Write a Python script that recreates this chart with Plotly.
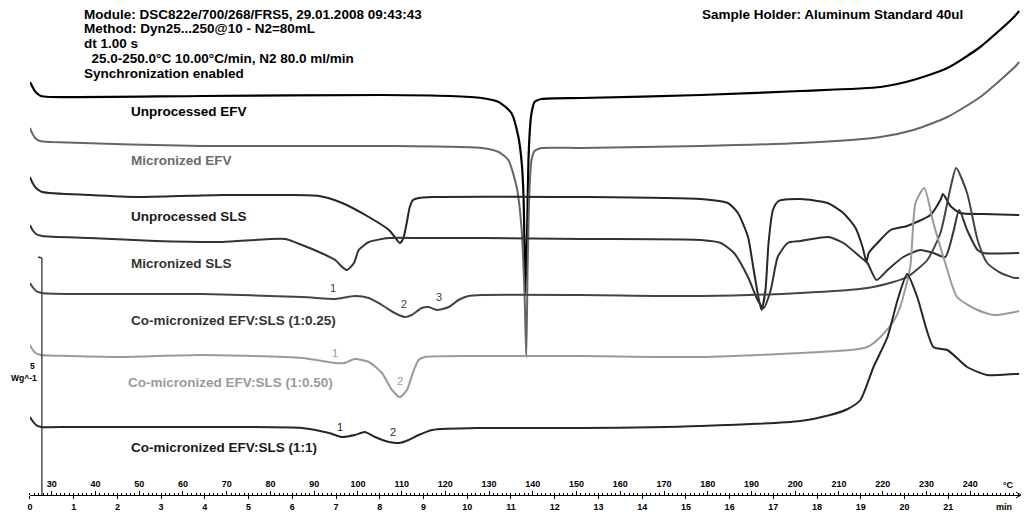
import plotly.graph_objects as go

# ---------------- data (temperature in °C, signal in plot units; endo down) ----------------
unproc_efv_T = [25.0, 25.6, 26.3, 27.5, 29.5, 64.4, 105.5, 121.0, 128.3, 132.2, 135.1, 136.7, 137.5, 137.9,
                138.3, 138.7, 139.0, 139.4, 139.7, 140.4, 142.0, 151.1, 178.4, 201.2, 219.5, 227.0, 234.8,
                242.3, 249.8, 251.2]
unproc_efv_y = [82, 87, 92, 96, 97, 96, 95, 96, 98, 102, 113, 137, 165, 200,
                293, 230, 160, 125, 113, 102, 99, 98, 95, 91, 87, 80, 68,
                47, 18, 11]

micro_efv_T = [25.0, 25.5, 26.2, 27.3, 30.0, 64.4, 105.5, 128.3, 132.2, 134.4, 136.3, 137.4, 138.1, 138.5,
               138.8, 139.2, 139.7, 140.4, 142.0, 151.1, 178.4, 201.2, 219.5, 227.0, 234.8, 242.3, 250.2, 251.2]
micro_efv_y = [128, 133, 138, 141, 142, 146, 146, 148, 152, 160, 187, 227, 293, 357,
               270, 193, 160, 151, 148, 148, 146, 143, 137, 130, 117, 97, 67, 62]

unproc_sls_T = [25.0, 25.6, 26.4, 27.8, 38.7, 50.1, 69.0, 83.4, 91.1, 96.4, 102.5, 107.1, 108.6, 109.6,
                110.4, 111.2, 111.8, 112.6, 113.9, 117.0, 151.1, 178.4, 184.6, 186.9, 189.2, 190.5, 191.7,
                192.3, 193.2, 193.9, 194.9, 196.2, 201.2, 207.4, 211.0, 213.8, 215.4, 216.3, 216.8, 218.8,
                221.8, 225.6, 230.9, 233.2, 233.8, 235.5, 237.7, 243.0, 251.2]
unproc_sls_y = [177, 183, 188, 192, 195, 197, 195, 195, 196, 203, 217, 230, 238, 243,
                238, 222, 208, 200, 198, 197, 197, 199, 203, 213, 237, 270, 300,
                310, 290, 243, 210, 201, 199, 203, 213, 228, 247, 262, 253, 243,
                230, 226, 215, 200, 194, 206, 213, 214, 215]

micro_sls_T = [25.0, 25.6, 26.4, 27.8, 38.7, 53.7, 69.0, 83.4, 87.2, 91.1, 94.8, 96.4, 97.5, 99.1, 100.2,
               102.5, 107.1, 114.6, 128.3, 151.1, 178.4, 183.0, 186.0, 189.2, 191.4, 192.8, 194.4, 196.0,
               198.3, 201.2, 207.6, 211.0, 214.9, 216.5, 218.6, 221.1, 224.7, 228.6, 231.6, 234.3, 236.1,
               237.5, 239.3, 241.7, 243.0, 251.2]
micro_sls_y = [225, 230, 234, 236, 238, 241, 242, 239, 245, 252, 260, 267, 270, 263, 250,
               242, 238, 238, 238, 239, 240, 243, 253, 277, 300, 308, 290, 257,
               243, 241, 237, 243, 257, 263, 280, 270, 257, 250, 253, 257, 233,
               210, 230, 250, 253, 253]

comic_025_T = [25.0, 25.6, 26.4, 27.7, 34.1, 46.2, 64.4, 87.2, 94.8, 96.4, 99.3, 102.5, 105.5, 108.4, 110.7,
               112.3, 114.6, 116.2, 118.0, 120.8, 123.0, 125.3, 128.3, 151.1, 178.4, 201.2, 216.5, 222.4,
               225.6, 230.2, 233.2, 235.4, 236.8, 239.3, 241.7, 243.9, 247.0, 250.2, 251.2]
comic_025_y = [283, 287, 291, 293, 294, 294, 294, 297, 299, 298, 296, 298, 305, 313, 317,
               315, 308, 307, 310, 307, 300, 296, 295, 295, 296, 293, 288, 282,
               277, 260, 233, 190, 168, 193, 240, 263, 273, 278, 278]

comic_050_T = [25.0, 25.5, 26.3, 27.5, 34.1, 46.2, 64.4, 87.2, 94.8, 97.0, 99.3, 102.5, 105.5, 107.8, 109.6,
               111.2, 112.8, 113.9, 115.3, 128.3, 151.1, 178.4, 201.2, 212.6, 216.5, 219.5, 222.4, 224.0,
               226.3, 227.5, 229.5, 231.6, 234.3, 237.0, 241.7, 245.4, 250.2, 251.2]
comic_050_y = [345, 349, 353, 355, 356, 357, 355, 358, 363, 363, 359, 362, 373, 390, 397,
               390, 370, 360, 357, 356, 356, 357, 353, 350, 347, 337, 322, 307,
               267, 203, 188, 223, 263, 297, 310, 315, 312, 311]

comic_1_T = [25.0, 25.6, 26.4, 27.5, 34.1, 46.2, 64.4, 87.2, 93.4, 96.4, 99.3, 101.6, 103.9, 107.1, 109.4,
             111.6, 113.9, 117.0, 128.3, 151.1, 178.4, 201.2, 208.0, 212.0, 214.9, 217.9, 221.1, 223.4,
             225.6, 227.9, 231.6, 234.8, 239.3, 243.9, 250.2, 251.2]
comic_1_y = [417, 421, 425, 427, 427, 427, 427, 428, 433, 437, 435, 432, 437, 442, 443,
             440, 435, 430, 428, 428, 426, 421, 415, 409, 400, 367, 337, 300,
             274, 297, 347, 350, 367, 375, 374, 374]

series_names = ["Unprocessed EFV", "Micronized EFV", "Unprocessed SLS", "Micronized SLS",
                "Co-micronized EFV:SLS (1:0.25)", "Co-micronized EFV:SLS (1:0.50)",
                "Co-micronized EFV:SLS (1:1)"]
series_T = [unproc_efv_T, micro_efv_T, unproc_sls_T, micro_sls_T, comic_025_T, comic_050_T, comic_1_T]
series_y = [unproc_efv_y, micro_efv_y, unproc_sls_y, micro_sls_y, comic_025_y, comic_050_y, comic_1_y]
series_colors = ["#000000", "#666666", "#262626", "#333333", "#444444", "#9a9a9a", "#262626"]
label_colors = ["#000000", "#6a6a6a", "#1a1a1a", "#333333", "#333333", "#9a9a9a", "#1a1a1a"]
label_y_px = [112, 161, 216, 263, 320, 382, 447]
label_x_px = [131, 131, 131, 131, 131, 128, 131]

# peak number labels: (text, T, y, colour)
peak_labels = [("1", 94.3, 288, "#404040"), ("2", 110.5, 304, "#404040"), ("3", 118.6, 297, "#404040"),
               ("1", 94.8, 353, "#9a9a9a"), ("2", 109.6, 381, "#9a9a9a"),
               ("1", 95.9, 427, "#262626"), ("2", 108.0, 432, "#262626")]

temp_ticks = list(range(30, 250, 10))
time_ticks = list(range(0, 22))

header_lines = ["Module: DSC822e/700/268/FRS5, 29.01.2008 09:43:43",
                "Method: Dyn25...250@10 - N2=80mL",
                "dt 1.00 s",
                "  25.0-250.0°C 10.00°C/min, N2 80.0 ml/min",
                "Synchronization enabled"]
header_y_px = [14, 28, 43, 59, 74]
holder_text = "Sample Holder: Aluminum Standard 40ul"

# ---------------- figure ----------------
W, H = 1024, 515
FONT = "Liberation Sans, Arial, sans-serif"
T0, T1 = 25.0, 25.0 + (1020 - 27) / 4.386
AX_Y = 1 - 495 / H
PAD = 5  # annotation inner padding compensation

def px(x):
    return x / W

def py(y):
    return 1 - y / H

fig = go.Figure()
for T, y, c, n in zip(series_T, series_y, series_colors, series_names):
    fig.add_trace(go.Scatter(x=T, y=y, mode="lines", name=n,
                             line=dict(color=c, width=2.2 if c == "#000000" else 2.0,
                                       shape="spline", smoothing=0.6),
                             hoverinfo="skip", showlegend=False))
# invisible trace to carry the time axis
fig.add_trace(go.Scatter(x=[0, 22.6], y=[1000, 1000], xaxis="x2", mode="markers",
                         marker=dict(opacity=0), hoverinfo="skip", showlegend=False))

ann = []
for t, yy in zip(header_lines, header_y_px):
    ann.append(dict(text=t.replace("  ", "&nbsp;&nbsp;"), x=px(84 - PAD), y=py(yy), xref="paper", yref="paper",
                    xanchor="left", yanchor="middle", showarrow=False,
                    font=dict(family=FONT, size=13.5, color="#000", weight="bold")))
ann.append(dict(text=holder_text, x=px(702 - 3), y=py(15), xref="paper", yref="paper",
                xanchor="left", yanchor="middle", showarrow=False,
                font=dict(family=FONT, size=13.5, color="#000", weight="bold")))
for n, c, lx, ly in zip(series_names, label_colors, label_x_px, label_y_px):
    ann.append(dict(text=n, x=px(lx - PAD), y=py(ly), xref="paper", yref="paper",
                    xanchor="left", yanchor="middle", showarrow=False,
                    font=dict(family=FONT, size=13.5, color=c, weight="bold")))
for t, T, yy, c in peak_labels:
    ann.append(dict(text=t, x=T, y=yy, xref="x", yref="y", showarrow=False,
                    xanchor="center", yanchor="middle",
                    font=dict(family=FONT, size=11, color=c)))
# scale bar text and axis units
ann.append(dict(text="5", x=px(30), y=py(366), xref="paper", yref="paper", showarrow=False,
                xanchor="center", yanchor="middle", font=dict(family=FONT, size=8.5, color="#000", weight="bold")))
ann.append(dict(text="Wg^-1", x=px(36), y=py(378), xref="paper", yref="paper", showarrow=False,
                xanchor="right", yanchor="middle", font=dict(family=FONT, size=8.5, color="#000", weight="bold")))
ann.append(dict(text="°C", x=px(1008), y=py(485), xref="paper", yref="paper", showarrow=False,
                xanchor="center", yanchor="middle", font=dict(family=FONT, size=9, color="#000", weight="bold")))
ann.append(dict(text="min", x=px(1004), y=py(507), xref="paper", yref="paper", showarrow=False,
                xanchor="center", yanchor="middle", font=dict(family=FONT, size=9, color="#000", weight="bold")))

shapes = [
    dict(type="line", xref="paper", yref="paper", x0=px(39), x1=px(39), y0=AX_Y, y1=py(258),
         line=dict(color="#333", width=1.3)),
    dict(type="line", xref="paper", yref="paper", x0=px(35), x1=px(39), y0=py(257), y1=py(258),
         line=dict(color="#333", width=1.3)),
    dict(type="path", xref="paper", yref="paper",
         path=f"M {px(1016)} {py(492)} L {px(1021)} {py(495)} L {px(1016)} {py(498)}",
         line=dict(color="#000", width=1)),
]

fig.update_layout(
    width=W, height=H, margin=dict(l=0, r=0, t=0, b=0),
    paper_bgcolor="white", plot_bgcolor="white",
    xaxis=dict(domain=[px(27), px(1020)], range=[T0, T1], anchor="free", position=AX_Y, side="top",
               showline=True, linecolor="#000", linewidth=1, showgrid=False, zeroline=False,
               ticks="outside", ticklen=4, tickcolor="#000", tickwidth=1,
               tickvals=temp_ticks, ticktext=[str(v) for v in temp_ticks],
               tickfont=dict(family=FONT, size=9, color="#000", weight="bold"),
               minor=dict(dtick=1, ticks="outside", ticklen=2, tickcolor="#000", showgrid=False)),
    xaxis2=dict(overlaying="x", range=[0, (1020 - 27) / 43.86], anchor="free", position=AX_Y, side="bottom",
                showline=False, showgrid=False, zeroline=False,
                ticks="outside", ticklen=3, tickcolor="#000", tickwidth=1,
                tickvals=time_ticks, ticktext=[str(v) for v in time_ticks],
                tickfont=dict(family=FONT, size=9, color="#000", weight="bold")),
    yaxis=dict(range=[H, 0], domain=[0, 1], visible=False, fixedrange=True),
    annotations=ann, shapes=shapes,
)

fig.write_html("out.html",
               config={"displayModeBar": False, "staticPlot": True},
               post_script="document.body.style.margin='0';document.body.style.padding='0';"
                           "document.body.style.overflow='hidden';")
